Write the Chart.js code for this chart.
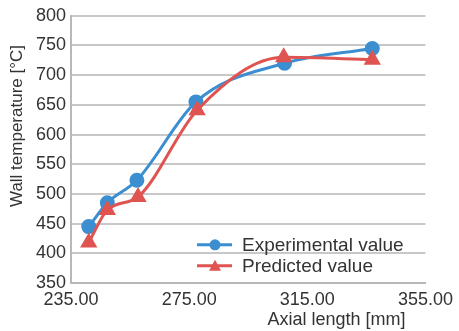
<!DOCTYPE html>
<html>
<head>
<meta charset="utf-8">
<script src="https://cdn.jsdelivr.net/npm/chart.js@4"></script>
<style>
  html, body { margin: 0; padding: 0; background: #fff; }
  #wrap { width: 459px; height: 331px; }
</style>
</head>
<body>
<div id="wrap"><canvas id="c" width="459" height="331"></canvas></div>
<script>
const X_TICKS = [235, 275, 315, 355];
const Y_TICKS = [350, 400, 450, 500, 550, 600, 650, 700, 750, 800];

const expX = [241, 247.3, 257.3, 277.3, 307.3, 337];
const expY = [445, 485, 523, 655, 720, 745];
const predX = [241, 247.3, 257.7, 277.7, 307, 337];
const predY = [418, 473, 495, 641, 730, 726];

const BLUE = "#3b8fd1";
const RED = "#df5451";
const FONT = "'Liberation Sans', Arial, sans-serif";

function pts(xs, ys) {
  return xs.map((x, i) => ({ x: x, y: ys[i] }));
}

// legend inside the plot + axis titles placed like the original figure
const insideLegend = {
  id: "insideLegend",
  afterDatasetsDraw(chart) {
    const ctx = chart.ctx;
    const a = chart.chartArea;
    const x0 = a.left + 126, y0 = a.top + 229;
    chart.data.datasets.slice().reverse().forEach((ds, i) => {
      const y = y0 + i * 21;
      ctx.save();
      ctx.strokeStyle = ds.borderColor;
      ctx.lineWidth = 3;
      ctx.beginPath();
      ctx.moveTo(x0, y);
      ctx.lineTo(x0 + 35, y);
      ctx.stroke();
      ctx.fillStyle = ds.borderColor;
      ctx.beginPath();
      if (ds.pointStyle === "triangle") {
        ctx.moveTo(x0 + 18, y - 6);
        ctx.lineTo(x0 + 24, y + 5);
        ctx.lineTo(x0 + 12, y + 5);
        ctx.closePath();
      } else {
        ctx.arc(x0 + 18, y, 5.5, 0, Math.PI * 2);
      }
      ctx.fill();
      ctx.fillStyle = "#333";
      ctx.font = "19px " + FONT;
      ctx.textBaseline = "middle";
      ctx.fillText(ds.label, x0 + 45, y + 1);
      ctx.restore();
    });
  },
  afterDraw(chart) {
    const ctx = chart.ctx;
    const a = chart.chartArea;
    ctx.save();
    ctx.fillStyle = "#333";
    ctx.font = "18px " + FONT;
    ctx.textAlign = "center";
    ctx.textBaseline = "middle";
    ctx.fillText("Axial length [mm]", a.right - 89, a.bottom + 37);
    ctx.translate(17, 126);
    ctx.rotate(-Math.PI / 2);
    ctx.font = "17px " + FONT;
    ctx.fillText("Wall temperature [°C]", 0, 0);
    ctx.restore();
  },
};

new Chart(document.getElementById("c"), {
  type: "line",
  data: {
    datasets: [
      {
        label: "Predicted value",
        data: pts(predX, predY),
        borderColor: RED,
        backgroundColor: RED,
        borderWidth: 3,
        pointStyle: "triangle",
        pointRadius: 7,
        tension: 0.4,
        cubicInterpolationMode: "monotone",
        order: 1,
      },
      {
        label: "Experimental value",
        data: pts(expX, expY),
        borderColor: BLUE,
        backgroundColor: BLUE,
        borderWidth: 3,
        pointStyle: "circle",
        pointRadius: 6,
        tension: 0.4,
        cubicInterpolationMode: "monotone",
        order: 2,
      },
    ],
  },
  options: {
    responsive: false,
    animation: false,
    layout: { padding: { top: 13, right: 30, left: 0, bottom: 0 } },
    plugins: { legend: { display: false }, tooltip: { enabled: false } },
    scales: {
      x: {
        type: "linear",
        min: 235,
        max: 355,
        afterBuildTicks: (s) => { s.ticks = X_TICKS.map((v) => ({ value: v })); },
        afterFit: (s) => { s.height = 48; },
        grid: { display: false, drawTicks: false },
        border: { display: true, color: "#b8b8b8", width: 2 },
        ticks: {
          color: "#333",
          font: { family: FONT, size: 18 },
          padding: 6,
          maxRotation: 0,
          callback: (v) => Number(v).toFixed(2),
        },
      },
      y: {
        min: 350,
        max: 800,
        afterBuildTicks: (s) => { s.ticks = Y_TICKS.map((v) => ({ value: v })); },
        afterFit: (s) => { s.width = 71; },
        grid: { color: "#c8c8c8", lineWidth: 2, drawTicks: false },
        border: { display: true, color: "#b8b8b8", width: 2 },
        ticks: { color: "#333", font: { family: FONT, size: 18 }, padding: 5 },
      },
    },
  },
  plugins: [insideLegend],
});
</script>
</body>
</html>
